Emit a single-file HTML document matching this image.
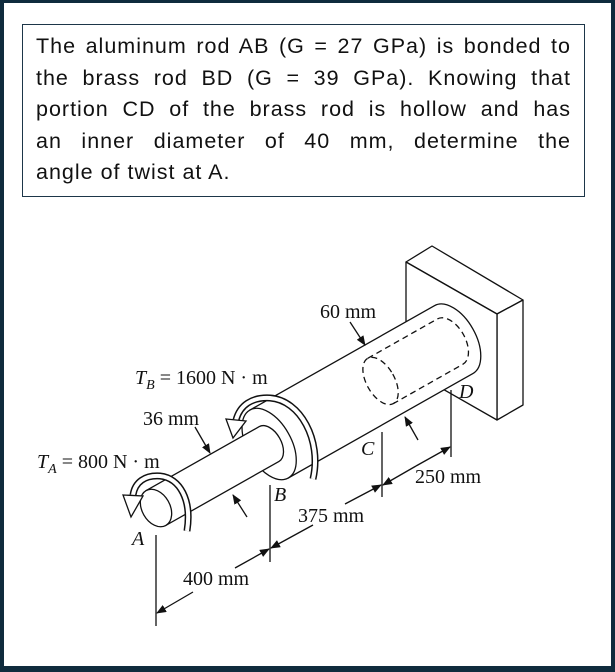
<!DOCTYPE html>
<html><head><meta charset="utf-8"><style>
html,body{margin:0;padding:0;background:#fff}
#wrap{position:relative;width:615px;height:672px;box-sizing:border-box;border:4px solid #0f2b3d;border-top-width:3px;border-bottom-width:6px;background:#fff;overflow:hidden}
#box{position:absolute;left:18px;top:21px;width:563px;height:173px;box-sizing:border-box;border:1px solid #1d3649;padding:6px 13px 0 13px;font-family:"Liberation Sans",sans-serif;font-size:21.5px;letter-spacing:1px;line-height:31.5px;color:#111}
#box div{text-align:justify;text-align-last:justify;white-space:nowrap}
#box div.l{text-align-last:left}
svg{position:absolute;left:-4px;top:-3px}
text{font-family:"Liberation Serif",serif;font-size:20px;fill:#111}
</style></head><body><div id="wrap">
<div id="box">
<div>The aluminum rod AB (G = 27 GPa) is bonded to</div>
<div>the brass rod BD (G = 39 GPa). Knowing that</div>
<div>portion CD of the brass rod is hollow and has</div>
<div>an inner diameter of 40 mm, determine the</div>
<div class="l">angle of twist at A.</div>
</div>
<svg width="615" height="672" viewBox="0 0 615 672">
<defs>
<marker id="ar" markerWidth="10" markerHeight="8" refX="9" refY="4" orient="auto" markerUnits="userSpaceOnUse"><path d="M0,0 L10,4 L0,8 Z" fill="#111"/></marker>
</defs>
<g stroke="#111" stroke-width="1.3" fill="#fff" stroke-linejoin="round">
<polygon points="406,262 432,246 523,300 497,314"/>
<polygon points="497,314 523,300 523,405 497,420"/>
<polygon points="406,262 497,314 497,420 406,368"/>
</g>
<g transform="translate(156,508) rotate(-29.5)" stroke="#111" stroke-width="1.3" fill="#fff">
<path d="M130,-39 L342,-39 A22,39 0 0 1 342,39 L130,39 Z"/>
<g fill="none" stroke-dasharray="6,4">
<ellipse cx="258" cy="0" rx="14" ry="26"/>
<path d="M258,-26 L338,-26 A15,26 0 0 1 338,26 L258,26"/>
</g>
<ellipse cx="130" cy="0" rx="22" ry="39"/>
<path d="M0,-20 L130,-20 A12,20 0 0 1 130,20 L0,20 Z"/>
<ellipse cx="0" cy="0" rx="14" ry="20"/>
</g>
<g fill="none" stroke-linecap="butt">
<path d="M187,531 C192,500 180,478 160,476 C145,475 135,482 133,495" stroke="#111" stroke-width="7"/>
<path d="M187,531 C192,500 180,478 160,476 C145,475 135,482 133,495" stroke="#fff" stroke-width="4"/>
<path d="M313,479 C322,440 300,400 270,398 C252,397 240,405 236,420" stroke="#111" stroke-width="7"/>
<path d="M313,479 C322,440 300,400 270,398 C252,397 240,405 236,420" stroke="#fff" stroke-width="4"/>
</g>
<polygon points="123,495 143,496 131,517" fill="#fff" stroke="#111" stroke-width="1.3"/>
<polygon points="226,419 246,421 233,438" fill="#fff" stroke="#111" stroke-width="1.3"/>
<g stroke="#111" stroke-width="1.3" fill="none">
<line x1="156" y1="535" x2="156" y2="626"/>
<line x1="270" y1="485" x2="270" y2="562"/>
<line x1="382" y1="432" x2="382" y2="497"/>
<line x1="451" y1="390" x2="451" y2="457"/>
<line x1="193" y1="592" x2="157" y2="613" marker-end="url(#ar)"/>
<line x1="235" y1="568" x2="269" y2="549" marker-end="url(#ar)"/>
<line x1="313" y1="525" x2="271" y2="548" marker-end="url(#ar)"/>
<line x1="345" y1="504" x2="381" y2="485" marker-end="url(#ar)"/>
<line x1="416" y1="466" x2="383" y2="485" marker-end="url(#ar)"/>
<line x1="416" y1="466" x2="450" y2="447" marker-end="url(#ar)"/>
<line x1="350" y1="322" x2="365" y2="345" marker-end="url(#ar)"/>
<line x1="195" y1="427" x2="210" y2="453" marker-end="url(#ar)"/>
<line x1="247" y1="517" x2="233" y2="495" marker-end="url(#ar)"/>
<line x1="418" y1="440" x2="405" y2="417" marker-end="url(#ar)"/>
</g>
<text x="320" y="318">60 mm</text>
<text x="135" y="384"><tspan font-style="italic">T</tspan><tspan font-style="italic" font-size="14" dy="5">B</tspan><tspan dy="-5"> = 1600 N · m</tspan></text>
<text x="143" y="425">36 mm</text>
<text x="37" y="468"><tspan font-style="italic">T</tspan><tspan font-style="italic" font-size="14" dy="5">A</tspan><tspan dy="-5"> = 800 N · m</tspan></text>
<text x="183" y="585">400 mm</text>
<text x="298" y="522">375 mm</text>
<text x="415" y="483">250 mm</text>
<text x="132" y="545" font-style="italic">A</text>
<text x="274" y="501" font-style="italic">B</text>
<text x="361" y="455" font-style="italic">C</text>
<text x="459" y="398" font-style="italic">D</text>
</svg>
</div></body></html>
